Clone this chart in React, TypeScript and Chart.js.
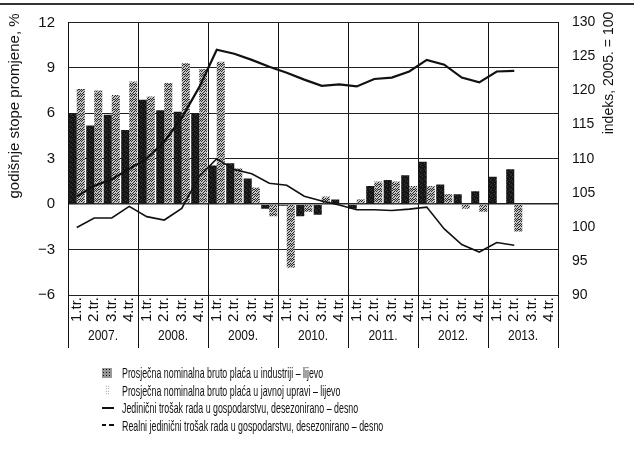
import React, { useEffect, useRef } from "react";
import { Chart, registerables } from "chart.js";
Chart.register(...registerables);

const FONT = '"Liberation Sans", Arial, Helvetica, sans-serif';

const quarterLabels = ["1.tr.", "2.tr.", "3.tr.", "4.tr."];
const yearLabels = ["2007.", "2008.", "2009.", "2010.", "2011.", "2012.", "2013."];
const categories = yearLabels.flatMap(() => quarterLabels);

// godišnje stope promjene, % (lijeva os)
const industryWage = [
  6.0, 5.2, 5.9, 4.9,
  6.9, 6.2, 6.1, 6.0,
  2.55, 2.7, 1.7, -0.3,
  -0.1, -0.8, -0.7, 0.3,
  -0.3, 1.2, 1.6, 1.9,
  2.8, 1.3, 0.65, 0.85,
  1.8, 2.3, null, null,
];
const publicAdminWage = [
  7.6, 7.5, 7.2, 8.1,
  7.1, 8.0, 9.3, 8.9,
  9.4, 2.35, 1.1, -0.8,
  -4.2, -0.5, 0.5, 0.0,
  0.3, 1.5, 1.5, 1.2,
  1.2, 0.65, -0.3, -0.5,
  0.0, -1.8, null, null,
];
// indeks, 2005. = 100 (desna os)
const unitLabourCost = [
  104.5, 106.0, 107.0, 108.5,
  110.0, 112.5, 116.0, 120.5,
  126.0, 125.4, 124.5, 123.5,
  122.6, 121.6, 120.7, 120.9,
  120.6, 121.7, 121.9, 122.8,
  124.5, 123.8, 121.9, 121.2,
  122.8, 122.9, null, null,
];
const realUnitLabourCost = [
  99.9, 101.3, 101.3, 103.0,
  101.5, 101.0, 102.7, 107.4,
  110.0, 108.4, 107.8, 106.4,
  106.1, 104.5, 103.8, 103.2,
  102.5, 102.5, 102.4, 102.6,
  102.9, 99.7, 97.4, 96.3,
  97.7, 97.3, null, null,
];

const leftAxis = { min: -6, max: 12, step: 3 };
const rightAxis = { min: 90, max: 130, step: 5 };
const leftAxisTitle = "godišnje stope promjene, %";
const rightAxisTitle = "indeks, 2005. = 100";
const seriesNames = [
  "Prosječna nominalna bruto plaća u industriji – lijevo",
  "Prosječna nominalna bruto plaća u javnoj upravi – lijevo",
  "Jedinični trošak rada u gospodarstvu, desezonirano – desno",
  "Realni jedinični trošak rada u gospodarstvu, desezonirano – desno",
];

function makeStipple(bg: string, dot: string, pts: number[][]) {
  const c = document.createElement("canvas");
  c.width = 5;
  c.height = 5;
  const g = c.getContext("2d")!;
  g.fillStyle = bg;
  g.fillRect(0, 0, 5, 5);
  g.fillStyle = dot;
  pts.forEach(([x, y]) => g.fillRect(x, y, 1, 1));
  return g.createPattern(c, "repeat")!;
}

const decorPlugin = {
  id: "decor",
  afterDraw(chart: any) {
    const { ctx, chartArea: a, scales } = chart;
    const x = scales.x;
    ctx.save();
    // top page rule of the scan
    ctx.strokeStyle = "#333";
    ctx.lineWidth = 2;
    ctx.beginPath();
    ctx.moveTo(0, 4);
    ctx.lineTo(634, 4);
    ctx.stroke();
    // year separators in label area
    const step = x.getPixelForValue(1) - x.getPixelForValue(0);
    ctx.lineWidth = 1;
    ctx.strokeStyle = "#111";
    for (let i = 0; i <= yearLabels.length; i++) {
      const px = Math.round(x.getPixelForValue(i * 4) - step / 2) + 0.5;
      ctx.beginPath();
      ctx.moveTo(px, a.bottom);
      ctx.lineTo(px, a.bottom + 53);
      ctx.stroke();
    }
    ctx.fillStyle = "#111";
    ctx.textAlign = "center";
    ctx.textBaseline = "middle";
    ctx.font = `14px ${FONT}`;
    yearLabels.forEach((yl, i) => {
      const cx = (x.getPixelForValue(i * 4) + x.getPixelForValue(i * 4 + 3)) / 2;
      ctx.save();
      ctx.translate(cx, a.bottom + 41);
      ctx.scale(0.86, 1);
      ctx.fillText(yl, 0, 0);
      ctx.restore();
    });
    ctx.font = `15px ${FONT}`;
    ctx.save();
    ctx.translate(15, 106);
    ctx.rotate(-Math.PI / 2);
    ctx.fillText(leftAxisTitle, 0, 0);
    ctx.restore();
    ctx.font = `14px ${FONT}`;
    ctx.save();
    ctx.translate(609, 73);
    ctx.rotate(-Math.PI / 2);
    ctx.fillText(rightAxisTitle, 0, 0);
    ctx.restore();
    ctx.restore();
  },
};

export default function App() {
  const ref = useRef<HTMLCanvasElement>(null);
  useEffect(() => {
    const canvas = ref.current!;
    const darkPat = makeStipple("#151515", "#3a3a3a", [[0, 0], [2, 1], [4, 3], [1, 4]]);
    const lightPat = makeStipple("#c4c4c4", "#2a2a2a", [[0, 0], [2, 0], [1, 1], [4, 1], [3, 2], [0, 3], [2, 3], [4, 4], [1, 4], [3, 4]]);
    const chart = new Chart(canvas, {
      type: "bar",
      data: {
        labels: categories,
        datasets: [
          {
            type: "line",
            label: seriesNames[2],
            data: unitLabourCost,
            yAxisID: "y1",
            borderColor: "#111",
            borderWidth: 2.2,
            pointRadius: 0,
            tension: 0,
            order: 0,
          },
          {
            type: "line",
            label: seriesNames[3],
            data: realUnitLabourCost,
            yAxisID: "y1",
            borderColor: "#111",
            borderWidth: 1.6,
            pointRadius: 0,
            tension: 0,
            order: 0,
          },
          {
            type: "bar",
            label: seriesNames[0],
            data: industryWage,
            yAxisID: "y",
            backgroundColor: darkPat,
            borderWidth: 0,
            categoryPercentage: 0.92,
            barPercentage: 1.0,
            order: 1,
          },
          {
            type: "bar",
            label: seriesNames[1],
            data: publicAdminWage,
            yAxisID: "y",
            backgroundColor: lightPat,
            borderWidth: 0,
            categoryPercentage: 0.92,
            barPercentage: 1.0,
            order: 1,
          },
        ] as any,
      },
      options: {
        responsive: false,
        animation: false,
        layout: { padding: { top: 19, left: 0, right: 0, bottom: 0 } },
        plugins: { legend: { display: false }, tooltip: { enabled: false } },
        scales: {
          x: {
            offset: true,
            grid: {
              offset: true,
              drawTicks: false,
              color: (c: any) => (c.index % 4 === 0 ? "#111" : "rgba(0,0,0,0)"),
              lineWidth: 1,
            },
            border: { display: false },
            ticks: {
              autoSkip: false,
              minRotation: 90,
              maxRotation: 90,
              padding: 2,
              color: "#111",
              font: { family: FONT, size: 15 },
            },
            afterFit: (s: any) => {
              s.height = 155;
            },
          },
          y: {
            position: "left",
            min: leftAxis.min,
            max: leftAxis.max,
            ticks: {
              stepSize: leftAxis.step,
              padding: 13,
              color: "#111",
              font: { family: FONT, size: 15 },
              callback: (v: any) => String(v).replace("-", "−"),
            },
            grid: {
              drawTicks: false,
              color: "#222",
              lineWidth: (c: any) => (c.tick && c.tick.value === 0 ? 1.6 : 1),
            },
            border: { display: true, color: "#111", width: 1 },
            afterFit: (s: any) => {
              s.width = 68;
            },
          },
          y1: {
            position: "right",
            min: rightAxis.min,
            max: rightAxis.max,
            ticks: {
              stepSize: rightAxis.step,
              padding: 14,
              color: "#111",
              font: { family: FONT, size: 14 },
            },
            grid: { display: false, drawTicks: false },
            border: { display: true, color: "#111", width: 1 },
            afterFit: (s: any) => {
              s.width = 76;
            },
          },
        },
      } as any,
      plugins: [decorPlugin],
    });
    return () => chart.destroy();
  }, []);

  const sym = (i: number) => {
    if (i === 0)
      return (
        <span style={{ display: "inline-block", width: 10, height: 10, background: "radial-gradient(#111 40%, transparent 45%) 0 0/3px 3px, #999", verticalAlign: "middle" }} />
      );
    if (i === 1)
      return (
        <span style={{ display: "inline-block", width: 5, height: 10, marginLeft: 3, marginRight: 2, background: "radial-gradient(#666 40%, transparent 45%) 0 0/2.5px 2.5px", verticalAlign: "middle" }} />
      );
    if (i === 2)
      return <span style={{ display: "inline-block", width: 12, height: 2, background: "#111", verticalAlign: "middle" }} />;
    return (
      <span style={{ display: "inline-block", width: 12, height: 2, verticalAlign: "middle", background: "linear-gradient(90deg, #111 0 4px, transparent 4px 7px, #111 7px 12px)" }} />
    );
  };

  return (
    <div style={{ position: "absolute", left: 0, top: 0, width: 634, height: 450, background: "#fff" }}>
      <canvas ref={ref} width={634} height={450} style={{ width: 634, height: 450, display: "block" }} />
      <div style={{ position: "absolute", left: 102, top: 364, color: "#111" }}>
        {seriesNames.map((n, i) => (
          <div key={i} style={{ height: 17.5, display: "flex", alignItems: "center", whiteSpace: "nowrap" }}>
            <span style={{ width: 20, display: "inline-flex", alignItems: "center" }}>{sym(i)}</span>
            <span style={{ font: `15px ${FONT}`, display: "inline-block", transform: "scaleX(0.59)", transformOrigin: "left center" }}>{n}</span>
          </div>
        ))}
      </div>
    </div>
  );
}
